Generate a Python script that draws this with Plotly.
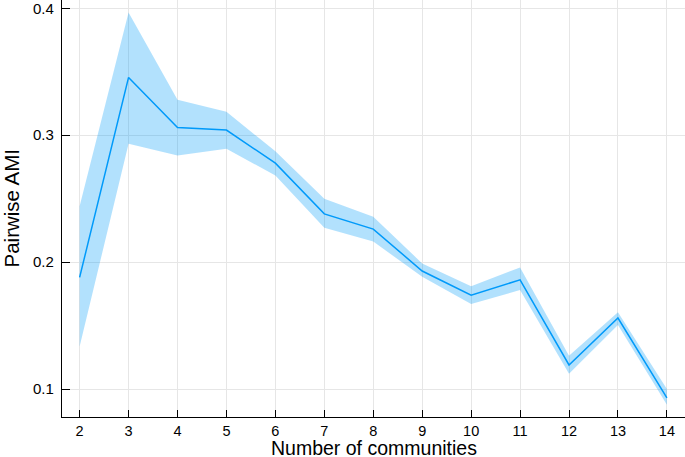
import plotly.graph_objects as go

communities = [2, 3, 4, 5, 6, 7, 8, 9, 10, 11, 12, 13, 14]
ami_mean = [0.188, 0.3455, 0.306, 0.304, 0.278, 0.238, 0.226, 0.193, 0.174, 0.186, 0.119, 0.156, 0.093]
ami_upper = [0.244, 0.3966, 0.328, 0.3185, 0.2873, 0.250, 0.2357, 0.199, 0.181, 0.1958, 0.1262, 0.1605, 0.100]
ami_lower = [0.1335, 0.2933, 0.284, 0.2894, 0.2682, 0.2271, 0.2162, 0.1885, 0.167, 0.178, 0.112, 0.1505, 0.0877]
x_ticks = list(range(2, 15))
y_ticks = [0.1, 0.2, 0.3, 0.4]

fig = go.Figure()
fig.add_trace(go.Scatter(x=communities, y=ami_upper, mode="lines",
                         line=dict(width=0), hoverinfo="skip", showlegend=False))
fig.add_trace(go.Scatter(x=communities, y=ami_lower, mode="lines",
                         line=dict(width=0), fill="tonexty",
                         fillcolor="rgba(0,154,250,0.3)", hoverinfo="skip", showlegend=False))
fig.add_trace(go.Scatter(x=communities, y=ami_mean, mode="lines",
                         line=dict(color="#009afa", width=1.5), showlegend=False))

font_family = "Liberation Sans, Arial, sans-serif"
fig.update_layout(
    width=685, height=457,
    margin=dict(l=62, r=0, t=0, b=40, autoexpand=False),
    paper_bgcolor="white", plot_bgcolor="white",
    font=dict(family=font_family, color="black"),
    xaxis=dict(
        range=[1.64, 14.37], tickvals=x_ticks, ticktext=[str(v) for v in x_ticks],
        showgrid=True, gridcolor="#e6e6e6", gridwidth=1, zeroline=False,
        showline=True, linecolor="black", linewidth=1.3, automargin=False,
        ticks="inside", ticklen=7, tickcolor="black", tickwidth=1,
        tickfont=dict(size=14.5), ticklabeloverflow="allow",
    ),
    yaxis=dict(
        range=[0.078, 0.4065], tickvals=y_ticks, ticktext=[str(v) for v in y_ticks],
        showgrid=True, gridcolor="#e6e6e6", gridwidth=1, zeroline=False,
        showline=True, linecolor="black", linewidth=1.3, automargin=False,
        ticks="inside", ticklen=8, tickcolor="black", tickwidth=1,
        tickfont=dict(size=15), ticklabeloverflow="allow", ticklabelstandoff=4,
    ),
    annotations=[
        dict(text="Number of communities", xref="paper", yref="paper",
             x=0.5, y=0, yshift=-31, xanchor="center", yanchor="middle",
             showarrow=False, font=dict(size=19.5)),
        dict(text="Pairwise AMI", xref="paper", yref="paper",
             x=0, y=0.5, xshift=-51, xanchor="center", yanchor="middle",
             textangle=-90, showarrow=False, font=dict(size=20.5)),
    ],
)
fig.write_html("out.html", config={"displayModeBar": False},
               post_script="document.body.style.margin='0';document.body.style.overflow='hidden';")
